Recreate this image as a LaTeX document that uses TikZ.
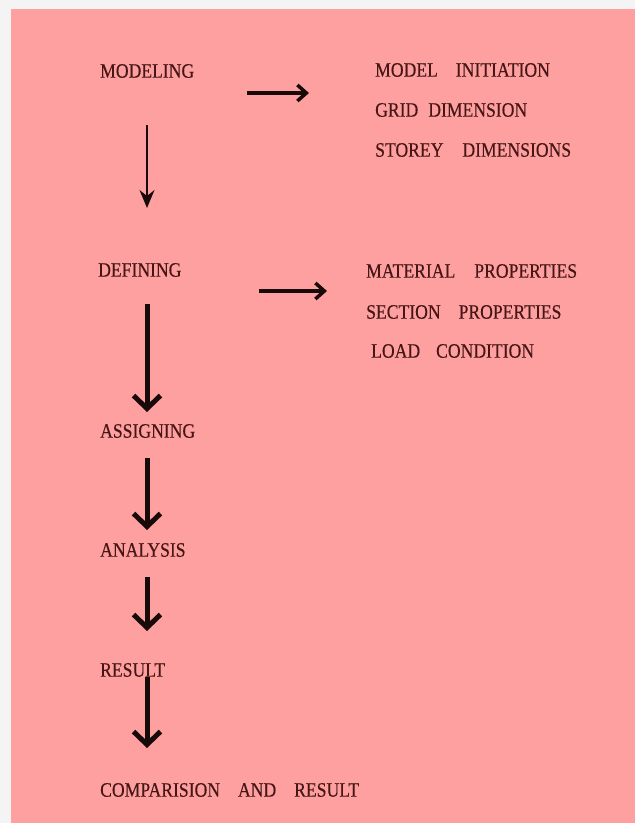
\documentclass[tikz,border=0pt]{standalone}
\usepackage{fontspec}
\setmainfont{Liberation Serif}
\newfontfamily\lblfont[FakeStretch=0.86,FakeBold=0.3]{Liberation Serif}
\usetikzlibrary{arrows.meta}
\definecolor{bgpink}{RGB}{255,160,160}
\definecolor{pagebg}{RGB}{244,244,244}
\definecolor{txt}{RGB}{70,22,22}
\definecolor{arr}{RGB}{25,10,10}
\newcommand{\gap}[1][17pt]{\hspace{#1}}
\begin{document}
\begin{tikzpicture}[x=1pt,y=-1pt,
  lbl/.style={anchor=west,inner sep=0pt,text=txt,font=\lblfont\fontsize{20.5}{22}\selectfont},
  thinarr/.style={draw=arr,line width=2.2pt,-{Stealth[length=18pt,width=15pt,inset=6pt]}},
  rarr/.style={draw=arr,line width=3.5pt,-{Straight Barb[length=9pt,width=16pt]}},
  thickarr/.style={draw=arr,line width=5pt,-{Straight Barb[length=13pt,width=27pt]}}]
\useasboundingbox (0,0) rectangle (635,823);
\fill[pagebg] (0,0) rectangle (635,823);
\fill[bgpink] (11,9) rectangle (635,823);

\node[lbl] (mod) at (100,71) {MODELING};
\node[lbl] (mi) at (375,70) {MODEL\gap[18pt]INITIATION};
\node[lbl] (gd) at (375,110) {GRID\gap[10pt]DIMENSION};
\node[lbl] (sd) at (375,150) {STOREY\gap[19pt]DIMENSIONS};
\node[lbl] (def) at (98,270) {DEFINING};
\node[lbl] (mp) at (366,271) {MATERIAL\gap[19pt]PROPERTIES};
\node[lbl] (sp) at (366,312) {SECTION\gap[18pt]PROPERTIES};
\node[lbl] (lc) at (371,351) {LOAD\gap[16pt]CONDITION};
\node[lbl] (asg) at (100,431) {ASSIGNING};
\node[lbl] (ana) at (100,550) {ANALYSIS};
\node[lbl] (res) at (100,670) {RESULT};
\node[lbl] (cmp) at (100,790) {COMPARISION\gap[18pt]AND\gap[18pt]RESULT};

\coordinate (r1s) at (247,93);  \coordinate (r1e) at (309,93);
\coordinate (d1s) at (147,125); \coordinate (d1e) at (147,208);
\coordinate (r2s) at (259,291); \coordinate (r2e) at (327,291);
\coordinate (d2s) at (147,304); \coordinate (d2e) at (147,412);
\coordinate (d3s) at (147,458); \coordinate (d3e) at (147,530);
\coordinate (d4s) at (147,577); \coordinate (d4e) at (147,631);
\coordinate (d5s) at (147,677); \coordinate (d5e) at (147,748);

\draw[rarr] (r1s) -- (r1e);
\draw[thinarr] (d1s) -- (d1e);
\draw[rarr] (r2s) -- (r2e);
\draw[thickarr] (d2s) -- (d2e);
\draw[thickarr] (d3s) -- (d3e);
\draw[thickarr] (d4s) -- (d4e);
\draw[thickarr] (d5s) -- (d5e);
\end{tikzpicture}
\end{document}
